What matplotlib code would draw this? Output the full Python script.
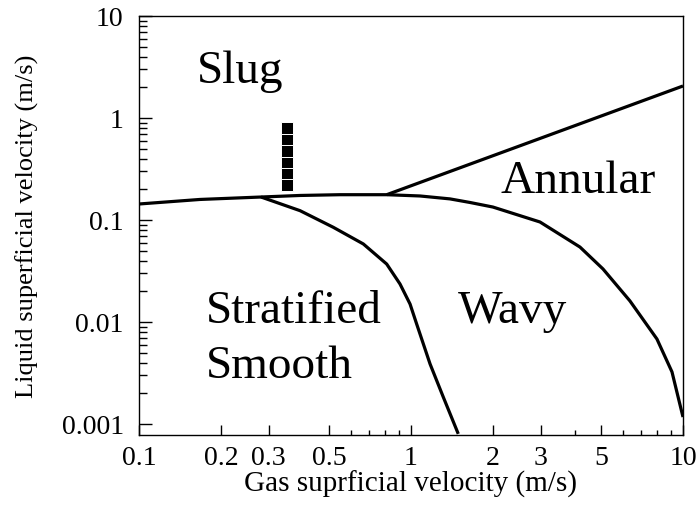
import matplotlib
matplotlib.use("Agg")
import matplotlib.pyplot as plt
from matplotlib.ticker import FixedLocator, FixedFormatter, NullFormatter

# ---------------- data ----------------
# Slug / stratified-smooth boundary (left part)
slug_strat_x = [0.1, 0.1675, 0.281]
slug_strat_y = [0.1435, 0.159, 0.168]

# Upper boundary continuing into the wavy / annular boundary
wavy_top_x = [0.281, 0.391, 0.548, 0.814, 1.079, 1.391, 1.648, 2.00, 2.98, 4.18, 5.08, 6.38, 8.02, 9.11, 10.0]
wavy_top_y = [0.168, 0.174, 0.177, 0.177, 0.172, 0.161, 0.1485, 0.134, 0.0956, 0.0543, 0.0331, 0.0161, 0.00681, 0.00324, 0.00117]

# Stratified smooth / wavy boundary
smooth_wavy_x = [0.281, 0.391, 0.518, 0.668, 0.814, 0.911, 0.992, 1.049, 1.175, 1.315, 1.492]
smooth_wavy_y = [0.168, 0.1234, 0.0848, 0.0582, 0.0370, 0.0236, 0.0150, 0.00956, 0.00388, 0.00183, 0.0008]

# Slug / annular boundary
slug_annular_x = [0.814, 10.0]
slug_annular_y = [0.177, 2.06]

# Experimental points (squares)
exp_x = [0.35, 0.35, 0.35, 0.35, 0.35, 0.35]
exp_y = [0.79, 0.61, 0.475, 0.36, 0.28, 0.22]

# Tick values / labels
x_major = [0.1, 0.2, 0.3, 0.5, 1, 2, 3, 5, 10]
x_major_labels = ["0.1", "0.2", "0.3", "0.5", "1", "2", "3", "5", "10"]
x_minor = [0.6, 0.7, 0.8, 0.9, 4, 6, 7, 8, 9]
y_major = [0.001, 0.01, 0.1, 1, 10]
y_major_labels = ["0.001", "0.01", "0.1", "1", "10"]
y_minor = [m * 10.0 ** e for e in range(-3, 1) for m in range(2, 10)]

# Region labels
regions = ["Slug", "Annular", "Stratified", "Smooth", "Wavy"]
region_x = [0.235, 4.13, 0.176, 0.176, 2.36]
region_y = [2.25, 0.188, 0.01, 0.00289, 0.01]
region_ha = ["center", "center", "left", "left", "center"]

# ---------------- plot ----------------
plt.rcParams["font.family"] = ["Liberation Serif", "DejaVu Serif"]

fig = plt.figure(figsize=(6.99, 5.06), dpi=100)
ax = fig.add_axes([139 / 699, 1 - 436 / 506, (683 - 139) / 699, (436 - 17) / 506])

lw = 2.3
ax.plot(slug_strat_x, slug_strat_y, color="black", lw=lw, solid_capstyle="butt")
ax.plot(wavy_top_x, wavy_top_y, color="black", lw=lw, solid_capstyle="butt")
ax.plot(smooth_wavy_x, smooth_wavy_y, color="black", lw=lw, solid_capstyle="butt")
ax.plot(slug_annular_x, slug_annular_y, color="black", lw=lw, solid_capstyle="butt")
ax.plot(exp_x, exp_y, linestyle="none", marker="s", markersize=9.2,
        markerfacecolor="black", markeredgecolor="white", markeredgewidth=0.7)

ax.set_xscale("log")
ax.set_yscale("log")
ax.set_xlim(0.1, 10)
ax.set_ylim(0.00078, 10)

ax.xaxis.set_major_locator(FixedLocator(x_major))
ax.xaxis.set_major_formatter(FixedFormatter(x_major_labels))
ax.xaxis.set_minor_locator(FixedLocator(x_minor))
ax.xaxis.set_minor_formatter(NullFormatter())
ax.yaxis.set_major_locator(FixedLocator(y_major))
ax.yaxis.set_major_formatter(FixedFormatter(y_major_labels))
ax.yaxis.set_minor_locator(FixedLocator(y_minor))
ax.yaxis.set_minor_formatter(NullFormatter())

ax.tick_params(axis="both", which="both", direction="in", top=False, right=False,
               color="black", width=1.0, labelsize=20)
ax.tick_params(axis="x", which="major", length=7, pad=7.5)
ax.tick_params(axis="x", which="minor", length=3.5)
ax.tick_params(axis="y", which="major", length=9, pad=11)
ax.tick_params(axis="y", which="minor", length=5.5)

for s in ax.spines.values():
    s.set_linewidth(1.0)
    s.set_color("black")

ax.set_xlabel("Gas suprficial velocity (m/s)", fontsize=21)
ax.set_ylabel("Liquid superficial velocity (m/s)", fontsize=19)
ax.xaxis.set_label_coords(0.5, -0.082)
ax.yaxis.set_label_coords(-0.184, 0.5)

for t, x, y, ha in zip(regions, region_x, region_y, region_ha):
    ax.text(x, y, t, fontsize=34, ha=ha, va="baseline", color="black")

fig.savefig("out.png", dpi=100)
